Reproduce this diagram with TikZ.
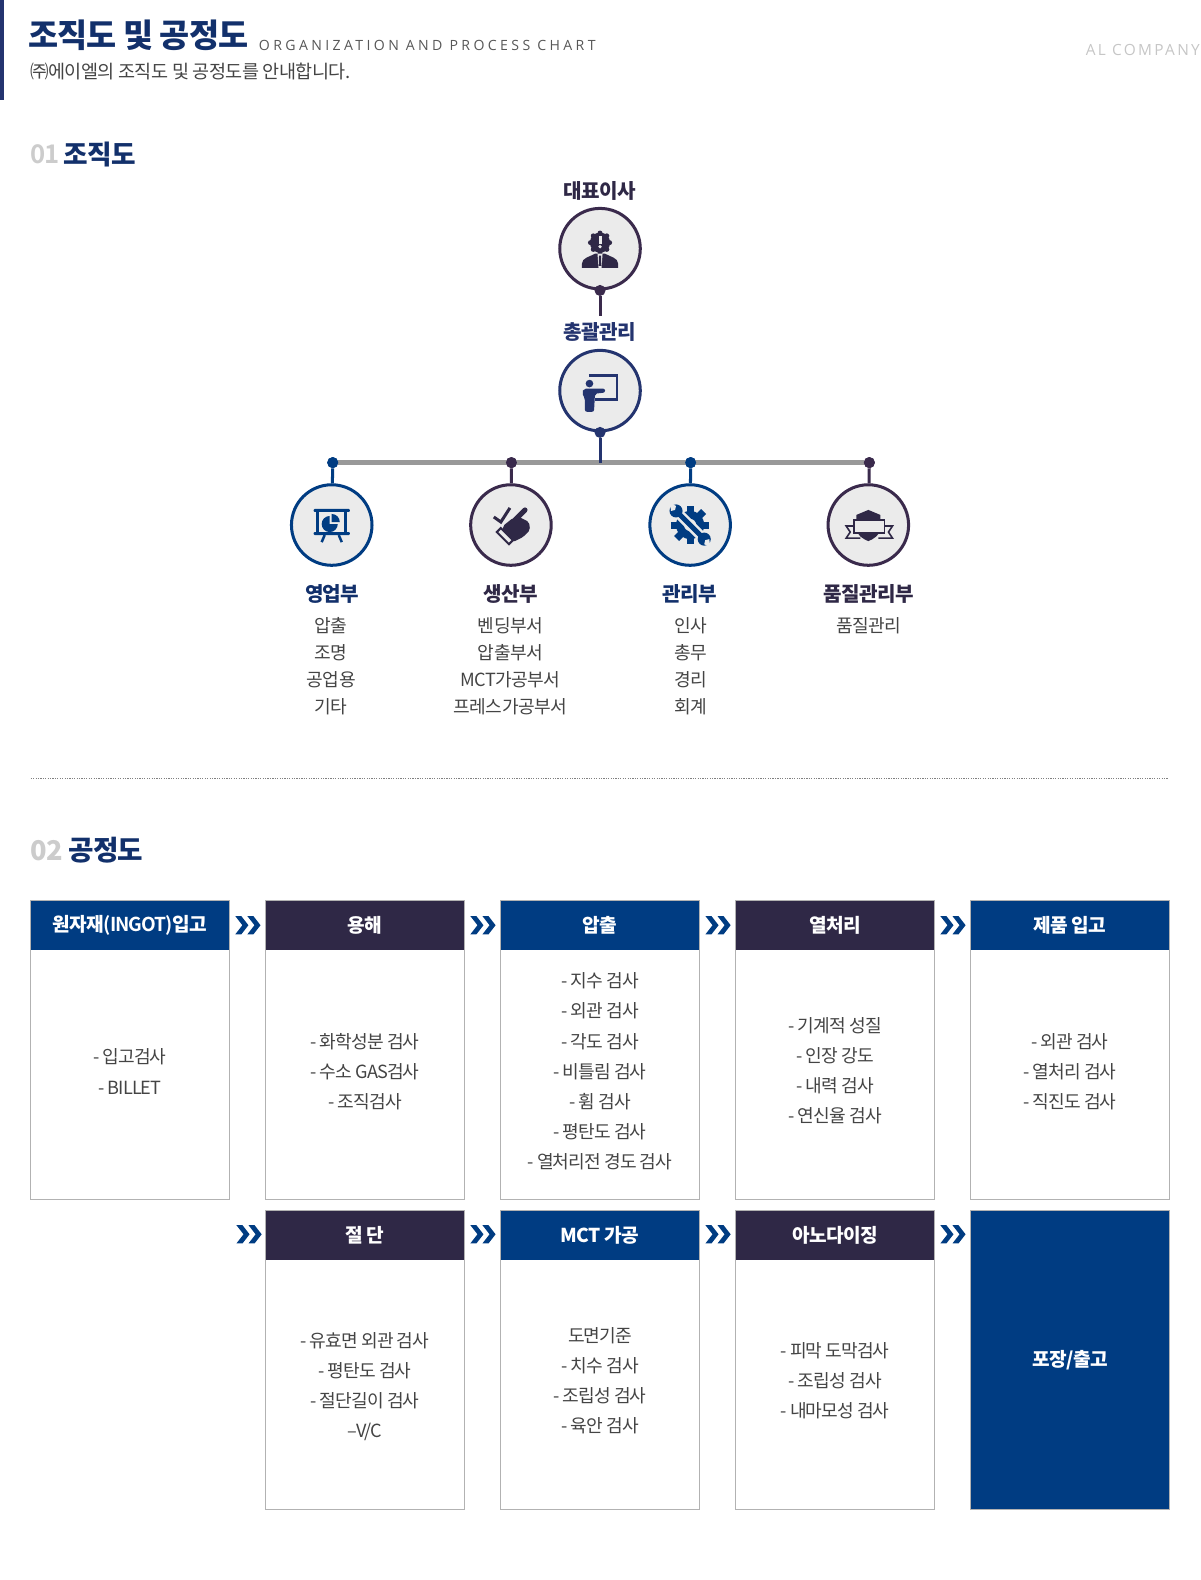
\documentclass[tikz,border=0pt]{standalone}
\usepackage{fontspec}
\setmainfont[LetterSpace=-3]{Noto Sans CJK KR}
\newfontfamily\krtight[LetterSpace=-5,BoldFont={Noto Sans CJK KR Bold}]{Noto Sans CJK KR}
\newfontfamily\enfont[LetterSpace=24]{Open Sans}
\newfontfamily\corpfont[LetterSpace=15]{Open Sans}
\usetikzlibrary{positioning}
\definecolor{navy}{HTML}{003C82}
\definecolor{plum}{HTML}{2F2846}
\definecolor{ring}{HTML}{3A2A4C}
\definecolor{ink}{HTML}{12306B}
\definecolor{mid}{HTML}{24346F}
\definecolor{disc}{HTML}{EBEBEB}
\definecolor{txt}{HTML}{444444}
\tikzset{
  >= latex,
  lab/.style={font=\fontsize{20}{24}\selectfont\bfseries, inner sep=0pt},
  lst/.style={font=\fontsize{18}{27}\selectfont, text=txt, align=center, inner sep=0pt},
  ci/.style={circle, draw=#1, line width=3pt, fill=disc, minimum size=80pt, inner sep=0pt},
  dt/.style={circle, fill=#1, minimum size=11pt, inner sep=0pt},
  hd/.style={fill=#1, text=white, minimum width=197pt, minimum height=49pt,
    inner sep=0pt, font=\fontsize{19}{24}\selectfont\bfseries},
  bd/.style={minimum width=197pt, minimum height=247pt, inner sep=0pt},
  tx/.style={align=center, text=txt, inner sep=0pt, font=\fontsize{18}{30}\krtight},
  fr/.style={draw=gray!60, line width=1pt},
  sec/.style={anchor=base west, inner sep=0pt},
  chev/.pic={
    \fill[navy] (-12,-9) -- (-6,-9) -- (1,0) -- (-6,9) -- (-12,9) -- (-5,0) -- cycle;
    \fill[navy] (0,-9) -- (6,-9) -- (13,0) -- (6,9) -- (0,9) -- (7,0) -- cycle;
  },
  iboss/.pic={
    \fill[plum] (0,-6) circle (10);
    \foreach \a in {0,45,...,315} \fill[plum] (0,-6) ++(\a:9.5) circle (2.5);
    \fill[disc] (-1.5,-13) rectangle (1.5,-5);
    \fill[disc] (0,-2) circle (1.8);
    \fill[plum] (-18,19) -- (-18,15) .. controls (-18,9) and (-10,8) .. (-5,5) -- (5,5)
      .. controls (10,8) and (18,9) .. (18,15) -- (18,19) -- cycle;
    \fill[disc] (-2.5,5) -- (2.5,5) -- (1.5,19) -- (-1.5,19) -- cycle;
    \fill[plum] (-1,7) -- (1,7) -- (1.3,17) -- (-1.3,17) -- cycle;
  },
  iteach/.pic={
    \draw[mid, line width=2.5pt] (-11,-15) -- (17,-15) -- (17,9) -- (-5,9);
    \fill[mid] (-10.5,-7) circle (3.8);
    \fill[mid, rounded corners=2pt] (-18,2) -- (-16,-2) -- (5,-2) -- (5,2) -- (-5,3) -- (-6,21) -- (-15,21) -- (-15,8) -- cycle;
  },
  iboard/.pic={
    \fill[navy, rounded corners=1pt] (-18,-16) rectangle (18,-13);
    \fill[navy, rounded corners=1pt] (-18,7) rectangle (18,10);
    \draw[navy, line width=3pt] (-14,-13) -- (-14,7) (14,-13) -- (14,7);
    \draw[navy, line width=2.5pt] (-7,10) -- (-10,17) (7,10) -- (10,17);
    \fill[navy] (-2,-1) -- (-2,-9) arc (-90:-360:8) -- cycle;
    \fill[navy] (0,-3) -- (0,-11) arc (-90:0:8) -- cycle;
  },
  ihand/.pic={
    \draw[plum, line width=3pt] (-17,-8) -- (-10,-3) -- (-1,-17);
    \draw[plum, line width=5pt, line cap=round] (4,-5) -- (14,-15);
    \fill[plum, rounded corners=2pt] (-8,1) -- (2,-7) -- (8,-8) -- (18,-3) -- (19,5) -- (12,12)
      -- (2,17) -- (-8,8) -- cycle;
    \draw[plum, line width=2pt, fill=disc] (-14,7) -- (-10,3) -- (2,15) -- (-2,19) -- cycle;
  },
  igear/.pic={
    \foreach \a in {0,45,...,315} \fill[navy, rotate=\a] (-3.5,-19) rectangle (3.5,-12);
    \fill[navy] (0,0) circle (14);
    \fill[disc] (0,0) circle (6);
    \draw[disc, line width=10pt] (-16,-16) -- (16,16);
    \draw[navy, line width=5pt] (-12,-12) -- (12,12);
    \fill[navy] (-14,-14) circle (6.5);
    \fill[navy] (14,14) circle (6.5);
    \fill[disc] (-19,-14) -- (-15,-15) -- (-14,-19) -- (-20,-22) -- cycle;
    \fill[disc] (19,14) -- (15,15) -- (14,19) -- (20,22) -- cycle;
  },
  ibadge/.pic={
    \fill[plum] (0,-15) -- (12,-10) -- (12,3) .. controls (12,10) and (5,14) .. (0,16)
      .. controls (-5,14) and (-12,10) .. (-12,3) -- (-12,-10) -- cycle;
    \draw[plum, line width=1.6pt, fill=disc] (-14,-5) rectangle (16,8);
    \draw[plum, line width=1.6pt] (-14,1) -- (-22,1) -- (-18,7) -- (-22,13) -- (-8,13);
    \draw[plum, line width=1.6pt] (16,1) -- (24,1) -- (20,7) -- (24,13) -- (10,13);
  }
}
\begin{document}
\begin{tikzpicture}[x=1pt,y=-1pt]
  \useasboundingbox (0,0) rectangle (1192,1569.4);
  % page head
  \fill[mid] (0,0) rectangle (3.5,99);
  \node[sec, text=ink, font=\fontsize{32.5}{40}\selectfont\bfseries] (title) at (28,47.5) {조직도 및 공정도};
  \node[sec, text=txt!90, font=\fontsize{14}{16}\enfont] (titleen) at (257,50.5) {ORGANIZATION AND PROCESS CHART};
  \node[sec, text=txt, font=\fontsize{18.4}{22}\selectfont] (intro) at (30,78) {㈜에이엘의 조직도 및 공정도를 안내합니다.};
  \node[anchor=base east, inner sep=0pt, text=gray!45, font=\fontsize{15.3}{16}\corpfont] (corp) at (1192,55) {AL COMPANY};

  % 01
  \node[sec, text=gray!40, font=\fontsize{25.5}{32}\krtight\bfseries] (no1) at (30,162.5) {01};
  \node[sec, text=ink, font=\fontsize{26.5}{32}\selectfont\bfseries] (sec1) at (63,163) {조직도};

  \node[lab, text=plum] (ceo) at (596,190) {대표이사};
  \node[ci=ring] (ceoc) at (596,247) {};
  \node[dt=ring] (ceod) at (ceoc.south) {};
  \node[lab, text=mid] (gm) at (596,330) {총괄관리};
  \node[ci=mid] (gmc) at (596,388) {};
  \node[dt=mid] (gmd) at (gmc.south) {};
  \draw[ring, line width=3pt] (ceod) -- (596,314);
  \pic at (ceoc) {iboss};
  \pic at (gmc) {iteach};

  \node[ci=navy] (sc) at (329.5,521.5) {};
  \node[ci=ring] (pc) at (507.5,521.5) {};
  \node[ci=navy] (mc) at (685.5,521.5) {};
  \node[ci=ring] (qc) at (862.5,521.5) {};
  \node[dt=navy] (sd) at (330.5,459.5) {};
  \node[dt=ring] (pd) at (508,459.5) {};
  \node[dt=navy] (md) at (686,459.5) {};
  \node[dt=ring] (qd) at (863.5,459.5) {};
  \draw[gray!80, line width=4.5pt] (sd) -- (qd);
  \node[dt=navy] at (sd) {};
  \node[dt=ring] at (pd) {};
  \node[dt=navy] at (md) {};
  \node[dt=ring] at (qd) {};
  \draw[mid, line width=3pt] (gmd) -- (gmd |- sd);
  \draw[navy, line width=3pt] (sd) -- (sc);
  \draw[ring, line width=3pt] (pd) -- (pc);
  \draw[navy, line width=3pt] (md) -- (mc);
  \draw[ring, line width=3pt] (qd) -- (qc);
  \pic at (sc) {iboard};
  \pic at (pc) {ihand};
  \pic at (mc) {igear};
  \pic at (qc) {ibadge};

  \node[lab, text=ink] (sl) at (330,590) {영업부};
  \node[lab, text=plum] (pl) at (507,590) {생산부};
  \node[lab, text=ink] (ml) at (685,590) {관리부};
  \node[lab, text=plum] (ql) at (863,590) {품질관리부};
  \node[lst, anchor=north] (sx) at (329,613) {압출\\조명\\공업용\\기타};
  \node[lst, anchor=north] (px) at (507,613) {벤딩부서\\압출부서\\MCT가공부서\\프레스가공부서};
  \node[lst, anchor=north] (mx) at (686.5,613) {인사\\총무\\경리\\회계};
  \node[lst, anchor=north] (qx) at (863,613) {품질관리};

  \coordinate (rulea) at (30.5,773.5);
  \coordinate (ruleb) at (1160,773.5);
  \draw[gray, line width=1.2pt, dash pattern=on 1.2pt off 1.2pt] (rulea) -- (ruleb);

  % 02
  \node[sec, text=gray!40, font=\fontsize{27}{32}\selectfont\bfseries] (no2) at (30,855) {02};
  \node[sec, text=ink, font=\fontsize{27.5}{32}\selectfont\bfseries] (sec2) at (68,855) {공정도};

  \node[hd=navy] (a1) at (129,919) {원자재{\krtight(INGOT)}입고};
  \node[hd=plum] (a2) at (362.5,919) {용해};
  \node[hd=navy] (a3) at (596,919) {압출};
  \node[hd=plum] (a4) at (829.5,919) {열처리};
  \node[hd=navy] (a5) at (1062.7,919) {제품 입고};
  \node[bd, below=0pt of a1] (b1) {};
  \node[bd, below=0pt of a2] (b2) {};
  \node[bd, below=0pt of a3] (b3) {};
  \node[bd, below=0pt of a4] (b4) {};
  \node[bd, below=0pt of a5] (b5) {};
  \node[tx] (t1) at ([yshift=3pt]b1.center) {- 입고검사\\- BILLET};
  \node[tx] (t2) at ([yshift=3pt]b2.center) {- 화학성분 검사\\- 수소 GAS검사\\- 조직검사};
  \node[tx] (t3) at ([yshift=3pt]b3.center) {- 지수 검사\\- 외관 검사\\- 각도 검사\\- 비틀림 검사\\- 휨 검사\\- 평탄도 검사\\- 열처리전 경도 검사};
  \node[tx] (t4) at ([yshift=4pt]b4.center) {- 기계적 성질\\- 인장 강도\\- 내력 검사\\- 연신율 검사};
  \node[tx] (t5) at ([yshift=3pt]b5.center) {- 외관 검사\\- 열처리 검사\\- 직진도 검사};

  \coordinate (start) at (230,1227);
  \node[hd=plum] (c2) at (362.5,1227) {절 단};
  \node[hd=navy] (c3) at (596,1227) {MCT 가공};
  \node[hd=plum] (c4) at (829.5,1227) {아노다이징};
  \node[bd, below=0pt of c2] (d2) {};
  \node[bd, below=0pt of c3] (d3) {};
  \node[bd, below=0pt of c4] (d4) {};
  \node[tx] (u2) at ([yshift=-2pt]d2.center) {- 유효면 외관 검사\\- 평탄도 검사\\- 절단길이 검사\\–V/C};
  \node[tx] (u3) at ([yshift=4pt]d3.center) {도면기준\\- 치수 검사\\- 조립성 검사\\- 육안 검사};
  \node[tx] (u4) at ([yshift=4pt]d4.center) {- 피막 도막검사\\- 조립성 검사\\- 내마모성 검사};
  \node[hd=navy, minimum height=296pt] (e5) at (1062.7,1351) {포장/출고};

  \foreach \hh/\bb in {a1/b1,a2/b2,a3/b3,a4/b4,a5/b5,c2/d2,c3/d3,c4/d4,e5/e5}
    \draw[fr] (\hh.north west) rectangle (\bb.south east);

  \path (a1.east) -- (a2.west) pic[pos=.5]{chev};
  \path (a2.east) -- (a3.west) pic[pos=.5]{chev};
  \path (a3.east) -- (a4.west) pic[pos=.5]{chev};
  \path (a4.east) -- (a5.west) pic[pos=.5]{chev};
  \path (start) -- (c2.west) pic[pos=.5, yshift=1pt]{chev};
  \path (c2.east) -- (c3.west) pic[pos=.5, yshift=1pt]{chev};
  \path (c3.east) -- (c4.west) pic[pos=.5, yshift=1pt]{chev};
  \path (c4.east) -- (e5.west |- c4) pic[pos=.5, yshift=1pt]{chev};
\end{tikzpicture}
\end{document}
